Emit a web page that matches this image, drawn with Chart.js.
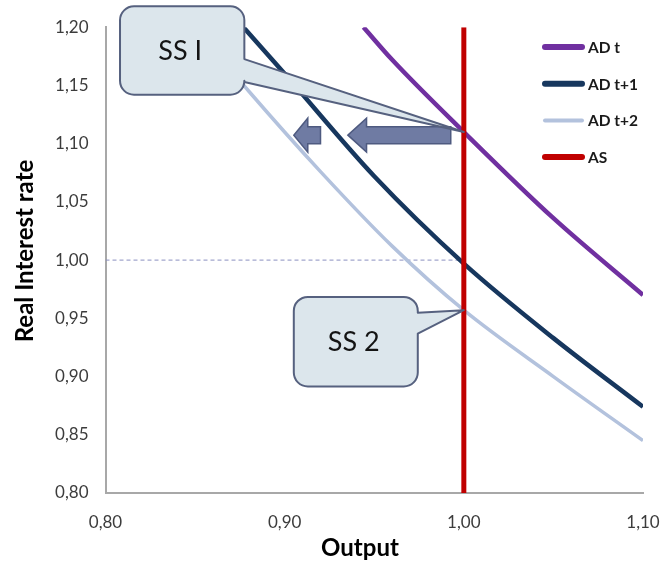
<!DOCTYPE html>
<html>
<head>
<meta charset="utf-8">
<script src="https://cdn.jsdelivr.net/npm/chart.js@4.4.0/dist/chart.umd.min.js"></script>
<style>
  html, body { margin: 0; padding: 0; background: #ffffff; }
  #wrap { width: 664px; height: 569px; position: relative; }
</style>
</head>
<body>
<div id="wrap"><canvas id="c"></canvas></div>
<script>
// Aggregate demand curves: output (x) against real interest rate (y)
const adT_output  = [0.944, 0.960, 1.000, 1.050, 1.100];
const adT_rate    = [1.200, 1.172, 1.110, 1.036, 0.970];
const adT1_output = [0.877, 0.900, 0.950, 1.000, 1.050, 1.100];
const adT1_rate   = [1.200, 1.160, 1.072, 0.997, 0.933, 0.874];
const adT2_output = [0.850, 0.880, 0.920, 0.960, 1.000, 1.050, 1.100];
const adT2_rate   = [1.200, 1.145, 1.076, 1.012, 0.957, 0.900, 0.845];
// Vertical aggregate supply at potential output
const as_output   = [1.00, 1.00];
const as_rate     = [0.80, 1.20];
// Dashed guide at the neutral rate
const guide_output = [0.80, 1.00];
const guide_rate   = [1.00, 1.00];

// Axis ticks
const xTickValues = [0.80, 0.90, 1.00, 1.10];
const xTickLabels = ['0,80', '0,90', '1,00', '1,10'];
const yTickValues = [0.80, 0.85, 0.90, 0.95, 1.00, 1.05, 1.10, 1.15, 1.20];
const yTickLabels = ['0,80', '0,85', '0,90', '0,95', '1,00', '1,05', '1,10', '1,15', '1,20'];

// Steady-state callouts and the points they mark
const calloutTexts  = ['SS I', 'SS 2'];
const calloutOutput = [1.00, 1.00];
const calloutRate   = [1.110, 0.957];

const seriesLabels = ['AD t', 'AD t+1', 'AD t+2', 'AS'];

const zip = (xs, ys) => xs.map((x, i) => ({ x: x, y: ys[i] }));

const FONT = 'Lato, "Open Sans", "DejaVu Sans", sans-serif';

// Callouts, shift arrows, legend and axis titles
const overlayPlugin = {
  id: 'overlay',
  afterDatasetsDraw(chart) {
    const ctx = chart.ctx;
    const xs = chart.scales.x, ys = chart.scales.y;
    const px = v => xs.getPixelForValue(v);
    const py = v => ys.getPixelForValue(v);

    // Block arrows pointing left (demand shifting inward)
    const arrows = [
      { tip: 0.9353, neck: 0.9457, tail: 0.9927 },
      { tip: 0.9051, neck: 0.9129, tail: 0.9200 }
    ];
    const ay = py(1.1073);
    arrows.forEach(a => {
      const tip = px(a.tip), neck = px(a.neck), tail = px(a.tail);
      ctx.save();
      ctx.beginPath();
      ctx.moveTo(tip, ay);
      ctx.lineTo(neck, ay - 17);
      ctx.lineTo(neck, ay - 8.5);
      ctx.lineTo(tail, ay - 8.5);
      ctx.lineTo(tail, ay + 8.5);
      ctx.lineTo(neck, ay + 8.5);
      ctx.lineTo(neck, ay + 17);
      ctx.closePath();
      ctx.fillStyle = '#6F7BA3';
      ctx.fill();
      ctx.lineWidth = 1.5;
      ctx.strokeStyle = '#4E5A80';
      ctx.stroke();
      ctx.restore();
    });

    // Rounded callout boxes with a tail from the right edge
    const boxes = [
      { x0: 0.8081, x1: 0.8775, y0: 1.218, y1: 1.142, t0: 1.1726, t1: 1.1530 },
      { x0: 0.9051, x1: 0.9743, y0: 0.9684, y1: 0.8915, t0: 0.9547, t1: 0.9368 }
    ];
    boxes.forEach((b, i) => {
      const l = px(b.x0), r = px(b.x1), t = py(b.y0), bt = py(b.y1);
      const tt = py(b.t0), tb = py(b.t1);
      const tx = px(calloutOutput[i]), ty = py(calloutRate[i]);
      const rad = 14;
      ctx.save();
      ctx.beginPath();
      ctx.moveTo(l + rad, t);
      ctx.lineTo(r - rad, t);
      ctx.arcTo(r, t, r, t + rad, rad);
      ctx.lineTo(r, tt);
      ctx.lineTo(tx, ty);
      ctx.lineTo(r, tb);
      ctx.lineTo(r, bt - rad);
      ctx.arcTo(r, bt, r - rad, bt, rad);
      ctx.lineTo(l + rad, bt);
      ctx.arcTo(l, bt, l, bt - rad, rad);
      ctx.lineTo(l, t + rad);
      ctx.arcTo(l, t, l + rad, t, rad);
      ctx.closePath();
      ctx.fillStyle = '#DCE6EC';
      ctx.fill();
      ctx.lineWidth = 2;
      ctx.lineJoin = 'round';
      ctx.strokeStyle = '#56617F';
      ctx.stroke();
      ctx.fillStyle = '#141414';
      ctx.font = '27px ' + FONT;
      ctx.textAlign = 'center';
      ctx.textBaseline = 'middle';
      ctx.fillText(calloutTexts[i], (l + r) / 2 - 2, (t + bt) / 2 + 1);
      ctx.restore();
    });

    // Legend in the upper right of the plot
    const legendWidths = [6, 6, 4, 6];
    ctx.save();
    chart.data.datasets.forEach((ds, i) => {
      if (i >= seriesLabels.length) return;
      const y = 47 + i * 36.7;
      ctx.beginPath();
      ctx.moveTo(545, y);
      ctx.lineTo(582, y);
      ctx.lineWidth = legendWidths[i];
      ctx.lineCap = 'round';
      ctx.strokeStyle = ds.borderColor;
      ctx.stroke();
      ctx.fillStyle = '#1A1A1A';
      ctx.font = 'bold 15.5px ' + FONT;
      ctx.textAlign = 'left';
      ctx.textBaseline = 'middle';
      ctx.fillText(ds.label, 588, y + 1);
    });
    ctx.restore();

    // Axis titles
    ctx.save();
    ctx.fillStyle = '#000000';
    ctx.font = 'bold 24px ' + FONT;
    ctx.textAlign = 'center';
    ctx.textBaseline = 'middle';
    ctx.fillText('Output', 360, 548);
    ctx.translate(25, 251);
    ctx.rotate(-Math.PI / 2);
    ctx.fillText('Real Interest rate', 0, 0);
    ctx.restore();
  }
};

new Chart(document.getElementById('c'), {
  type: 'line',
  data: {
    datasets: [
      { label: seriesLabels[0], data: zip(adT_output, adT_rate), borderColor: '#7030A0', borderWidth: 4.5, order: 3 },
      { label: seriesLabels[1], data: zip(adT1_output, adT1_rate), borderColor: '#17375E', borderWidth: 4.5, order: 2 },
      { label: seriesLabels[2], data: zip(adT2_output, adT2_rate), borderColor: '#B3C2DD', borderWidth: 3.5, order: 4 },
      { label: seriesLabels[3], data: zip(as_output, as_rate), borderColor: '#C00000', borderWidth: 5, order: 0, cubicInterpolationMode: 'default', tension: 0 },
      { label: 'guide', data: zip(guide_output, guide_rate), borderColor: '#8A8FC0', borderWidth: 1, borderDash: [4, 3], order: 5, cubicInterpolationMode: 'default', tension: 0 }
    ]
  },
  options: {
    responsive: true,
    maintainAspectRatio: false,
    animation: false,
    parsing: true,
    elements: {
      point: { radius: 0, hoverRadius: 0 },
      line: { cubicInterpolationMode: 'monotone', fill: false, borderCapStyle: 'butt' }
    },
    layout: { padding: { left: 0, top: 25, right: 21, bottom: 0 } },
    plugins: {
      legend: { display: false },
      tooltip: { enabled: false }
    },
    scales: {
      x: {
        type: 'linear',
        min: 0.80,
        max: 1.10,
        afterBuildTicks: s => { s.ticks = xTickValues.map(v => ({ value: v })); },
        afterFit: s => { s.height = 76; s.paddingRight = 0; s.paddingLeft = 0; },
        grid: { display: false, drawTicks: false },
        border: { display: true, color: '#A8A8A8', width: 2 },
        ticks: {
          padding: 19,
          color: '#3C3C3C',
          font: { family: FONT, size: 17 },
          callback: (v, i) => xTickLabels[i]
        }
      },
      y: {
        type: 'linear',
        min: 0.80,
        max: 1.20,
        afterBuildTicks: s => { s.ticks = yTickValues.map(v => ({ value: v })); },
        afterFit: s => { s.width = 105.5; },
        grid: { display: false, drawTicks: false },
        border: { display: true, color: '#A8A8A8', width: 2 },
        ticks: {
          padding: 17,
          color: '#3C3C3C',
          font: { family: FONT, size: 17 },
          callback: (v, i) => yTickLabels[i]
        }
      }
    }
  },
  plugins: [overlayPlugin]
});
</script>
</body>
</html>
